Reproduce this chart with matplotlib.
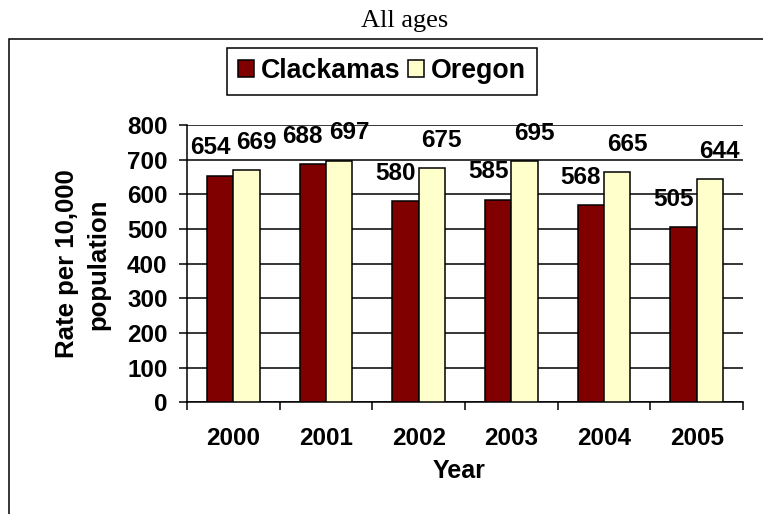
import numpy as np
import matplotlib
matplotlib.use("Agg")
import matplotlib.pyplot as plt
from matplotlib.patches import Rectangle

years = ["2000", "2001", "2002", "2003", "2004", "2005"]
clackamas = [654, 688, 580, 585, 568, 505]
oregon = [669, 697, 675, 695, 665, 644]
series_names = ["Clackamas", "Oregon"]

plt.rcParams['font.family'] = ['Liberation Sans', 'DejaVu Sans']
plt.rcParams['font.weight'] = 'bold'

W, H = 763, 514
fig = plt.figure(figsize=(W / 100, H / 100), dpi=100)

# plot area in pixels: x 187..743, y 125..402
ax = fig.add_axes([187 / W, 1 - 402.3 / H, (743 - 187) / W, (402.3 - 125) / H])

x = np.arange(len(years))
bw = 0.284
b1 = ax.bar(x - bw / 2, clackamas, bw, color='#800000', edgecolor='black',
            linewidth=1.1, label=series_names[0], zorder=3)
b2 = ax.bar(x + bw / 2, oregon, bw, color='#FFFFCC', edgecolor='black',
            linewidth=1.1, label=series_names[1], zorder=3)

# data labels, shifted off the bar centre like the original
for bars, vals, dx in [(b1, clackamas, -7.2), (b2, oregon, 7.2)]:
    for r, v in zip(bars, vals):
        ax.annotate(str(v), (r.get_x() + r.get_width() / 2, r.get_height()),
                    xytext=(dx, 20), textcoords='offset points',
                    ha='center', va='center', fontsize=17.5, fontweight='bold',
                    zorder=5)

ax.set_xlim(-0.5, len(years) - 0.5)
ax.set_ylim(0, 800)
ax.set_yticks(range(0, 801, 100))
ax.yaxis.grid(True, color='black', linewidth=1.1)
ax.set_axisbelow(True)

ax.set_xticks(x)
ax.set_xticklabels(years)
ax.set_xticks(np.arange(-0.5, len(years), 1), minor=True)
ax.tick_params(axis='x', which='major', length=0, pad=18, labelsize=17.5)
ax.tick_params(axis='x', which='minor', length=6, width=1.1, direction='out')
ax.tick_params(axis='y', length=6, width=1.1, direction='out', pad=8, labelsize=17.5)

for s in ['top', 'right']:
    ax.spines[s].set_visible(False)
for s in ['left', 'bottom']:
    ax.spines[s].set_linewidth(1.1)

fig.text(83 / W, 1 - 264 / H, "Rate per 10,000\npopulation", rotation=90,
         ha='center', va='center', fontsize=18.5, fontweight='bold',
         linespacing=1.4, multialignment='center')
fig.text(459 / W, 1 - 478.3 / H, "Year", ha='center', va='baseline',
         fontsize=18, fontweight='bold')

fig.text(404.7 / W, 1 - 27 / H, "All ages", ha='center', va='baseline',
         fontsize=19, fontweight='normal', family=['Liberation Serif', 'DejaVu Serif'])

leg = fig.legend(handles=[b1, b2], loc='center', ncol=2,
                 bbox_to_anchor=(382 / W, 1 - 71.3 / H), bbox_transform=fig.transFigure,
                 fancybox=False, shadow=False, framealpha=1, edgecolor='black',
                 prop={'size': 19.3, 'weight': 'bold'},
                 handlelength=0.6, handleheight=0.6, handletextpad=0.25,
                 columnspacing=0.3, borderpad=0.4)
leg.get_frame().set_linewidth(1.1)

# outer frame around the chart
fig.patches.append(Rectangle((9 / W, -0.1), 1.2, 1.1 - 39.3 / H,
                             transform=fig.transFigure, fill=False,
                             edgecolor='black', linewidth=1.1))

fig.savefig("out.png", dpi=100)
